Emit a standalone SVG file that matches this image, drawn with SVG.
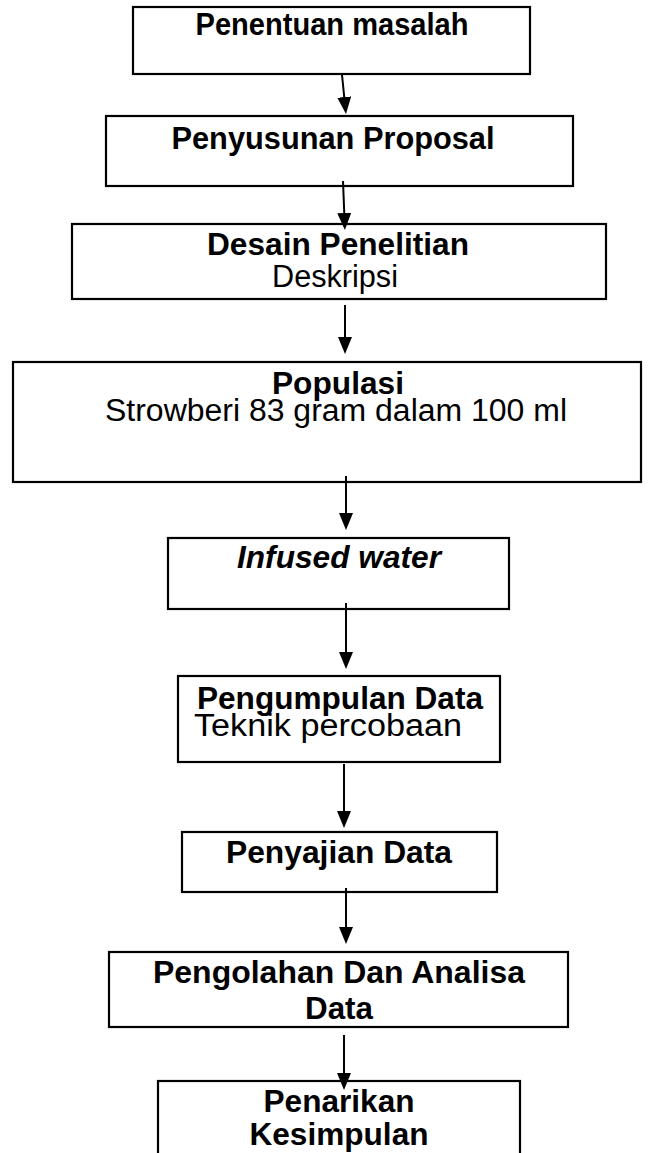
<svg xmlns="http://www.w3.org/2000/svg" width="652" height="1153" viewBox="0 0 652 1153">
<defs>
<style>
.box{fill:#fff;stroke:#000;stroke-width:2.2}
.t{font-family:"Liberation Sans",Arial,sans-serif;font-size:31px;fill:#000;text-anchor:middle}
.b{font-weight:bold}
.bi{font-weight:bold;font-style:italic}
.c{stroke:#000;stroke-width:2;fill:none;marker-end:url(#ah)}
</style>
<marker id="ah" markerUnits="userSpaceOnUse" markerWidth="18" markerHeight="14" refX="14" refY="7" orient="auto">
<path d="M0,0 L17,7 L0,14 z" fill="#000"/>
</marker>
</defs>
<rect width="652" height="1153" fill="#fff"/>
<g id="n1"><rect class="box" x="133" y="7" width="397" height="67"/>
<text class="t b" x="332" y="35" textLength="273" lengthAdjust="spacingAndGlyphs">Penentuan masalah</text></g>
<g id="n2"><rect class="box" x="106" y="116" width="467" height="70"/>
<text class="t b" x="333" y="149" textLength="323" lengthAdjust="spacingAndGlyphs">Penyusunan Proposal</text></g>
<g id="n3"><rect class="box" x="72" y="224" width="534" height="75"/>
<text class="t b" x="338" y="255" textLength="262" lengthAdjust="spacingAndGlyphs">Desain Penelitian</text>
<text class="t" x="335" y="287" textLength="126" lengthAdjust="spacingAndGlyphs">Deskripsi</text></g>
<g id="n4"><rect class="box" x="13" y="362" width="628" height="120"/>
<text class="t b" x="338" y="394" textLength="132" lengthAdjust="spacingAndGlyphs">Populasi</text>
<text class="t" x="336" y="421" textLength="462" lengthAdjust="spacingAndGlyphs">Strowberi 83 gram dalam 100 ml</text></g>
<g id="n5"><rect class="box" x="168" y="538" width="341" height="71"/>
<text class="t bi" x="339" y="568" textLength="204" lengthAdjust="spacingAndGlyphs">Infused water</text></g>
<g id="n6"><rect class="box" x="178" y="676" width="322" height="86"/>
<text class="t b" x="340" y="709" textLength="286" lengthAdjust="spacingAndGlyphs">Pengumpulan Data</text>
<text class="t" x="328" y="736" textLength="268" lengthAdjust="spacingAndGlyphs">Teknik percobaan</text></g>
<g id="n7"><rect class="box" x="182" y="832" width="315" height="60"/>
<text class="t b" x="339" y="863" textLength="226" lengthAdjust="spacingAndGlyphs">Penyajian Data</text></g>
<g id="n8"><rect class="box" x="109" y="952" width="459" height="75"/>
<text class="t b" x="339" y="983" textLength="372" lengthAdjust="spacingAndGlyphs">Pengolahan Dan Analisa</text>
<text class="t b" x="339" y="1019" textLength="68" lengthAdjust="spacingAndGlyphs">Data</text></g>
<g id="n9"><rect class="box" x="158" y="1081" width="362" height="100"/>
<text class="t b" x="339" y="1112" textLength="151" lengthAdjust="spacingAndGlyphs">Penarikan</text>
<text class="t b" x="339" y="1145" textLength="179" lengthAdjust="spacingAndGlyphs">Kesimpulan</text></g>
<g id="connectors">
<line class="c" x1="342" y1="75" x2="345.7" y2="111"/>
<line class="c" x1="343" y1="181" x2="344.8" y2="227"/>
<line class="c" x1="345" y1="305" x2="345" y2="351"/>
<line class="c" x1="346" y1="476" x2="346" y2="527"/>
<line class="c" x1="346" y1="603" x2="346" y2="666"/>
<line class="c" x1="344" y1="764" x2="344" y2="825"/>
<line class="c" x1="346" y1="888" x2="346" y2="941"/>
<line class="c" x1="344" y1="1035" x2="344" y2="1087"/>
</g>
</svg>
